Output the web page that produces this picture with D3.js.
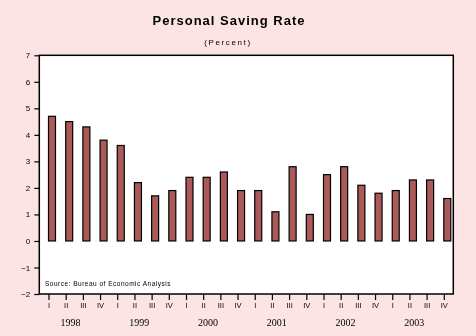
<!DOCTYPE html>
<html><head><meta charset="utf-8">
<script src="https://cdn.jsdelivr.net/npm/d3@7"></script>
<style>
html,body{margin:0;padding:0;background:#fde4e4;}
svg{display:block;will-change:transform;}
</style></head>
<body>
<script>
const years = ["1998","1999","2000","2001","2002","2003"];
const quarterLabels = ["I","II","III","IV"];
const savingRate = [4.7,4.5,4.3,3.8, 3.6,2.2,1.7,1.9, 2.4,2.4,2.6,1.9, 1.9,1.1,2.8,1.0, 2.5,2.8,2.1,1.8, 1.9,2.3,2.3,1.6];
const yTicks = [-2,-1,0,1,2,3,4,5,6,7];
const title = "Personal Saving Rate";
const subtitle = "(Percent)";
const source = "Source: Bureau of Economic Analysis";

const W = 476, H = 336;
const plot = {left: 39.3, right: 453.3, top: 55.3, bottom: 294};
const keys = [];
years.forEach(y => quarterLabels.forEach(q => keys.push(y + "-" + q)));
const data = keys.map((k, i) => ({key: k, year: k.split("-")[0], q: k.split("-")[1], v: savingRate[i]}));

const svg = d3.select("body").append("svg").attr("width", W).attr("height", H);
svg.append("rect").attr("width", W).attr("height", H).attr("fill", "#fde4e4");

const x = d3.scalePoint().domain(keys).range([48.5, 443.8]);
const y = d3.scaleLinear().domain([-2, 7]).range([plot.bottom, plot.top]);

svg.append("rect").attr("x", plot.left).attr("y", plot.top)
  .attr("width", plot.right - plot.left).attr("height", plot.bottom - plot.top)
  .attr("fill", "#ffffff");

// bars
svg.append("g").selectAll("rect").data(data).join("rect")
  .attr("x", d => x(d.key))
  .attr("y", d => y(Math.max(0, d.v)))
  .attr("width", 7)
  .attr("height", d => Math.abs(y(d.v) - y(0)))
  .attr("fill", "#ab5959")
  .attr("stroke", "#000").attr("stroke-width", 1.2);

// frame
svg.append("rect").attr("x", plot.left).attr("y", plot.top)
  .attr("width", plot.right - plot.left).attr("height", plot.bottom - plot.top)
  .attr("fill", "none").attr("stroke", "#000").attr("stroke-width", 1.5);

// y axis
const yAxis = d3.axisLeft(y).tickValues(yTicks).tickSize(5).tickPadding(4).tickFormat(d3.format("d"));
const gy = svg.append("g").attr("transform", `translate(${plot.left},0)`).call(yAxis);
gy.select(".domain").remove();
gy.selectAll("line").attr("stroke", "#000").attr("stroke-width", 1.2);
gy.selectAll("text").attr("font-family", "Liberation Sans, Arial, sans-serif").attr("font-size", 8).attr("fill", "#000");

// x axis
const xAxis = d3.axisBottom(x).tickSize(6).tickPadding(3).tickFormat(k => k.split("-")[1]);
const gx = svg.append("g").attr("transform", `translate(0,${plot.bottom})`).call(xAxis);
gx.select(".domain").remove();
gx.selectAll("line").attr("stroke", "#000").attr("stroke-width", 1.2);
gx.selectAll("text").attr("font-family", "Liberation Sans, Arial, sans-serif").attr("font-size", 7.5).attr("fill", "#000");

// year labels
const step = x.step();
svg.append("g").selectAll("text").data(years).join("text")
  .attr("x", yr => x(yr + "-I") + step * 1.28)
  .attr("y", 326)
  .attr("text-anchor", "middle")
  .attr("font-family", "Liberation Serif, Times New Roman, serif")
  .attr("font-size", 10)
  .attr("fill", "#000")
  .text(d => d);

// titles
svg.append("text").attr("x", 229).attr("y", 25).attr("text-anchor", "middle")
  .attr("font-family", "Liberation Sans, Arial, sans-serif").attr("font-weight", "bold")
  .attr("font-size", 13).attr("letter-spacing", 1).attr("fill", "#000").text(title);
svg.append("text").attr("x", 228).attr("y", 45).attr("text-anchor", "middle")
  .attr("font-family", "Liberation Sans, Arial, sans-serif")
  .attr("font-size", 8).attr("letter-spacing", 1.6).attr("fill", "#000").text(subtitle);

svg.append("text").attr("x", 45).attr("y", 286)
  .attr("font-family", "Liberation Sans, Arial, sans-serif")
  .attr("font-size", 6.5).attr("letter-spacing", 0.5).attr("fill", "#000").text(source);
</script>
</body></html>
